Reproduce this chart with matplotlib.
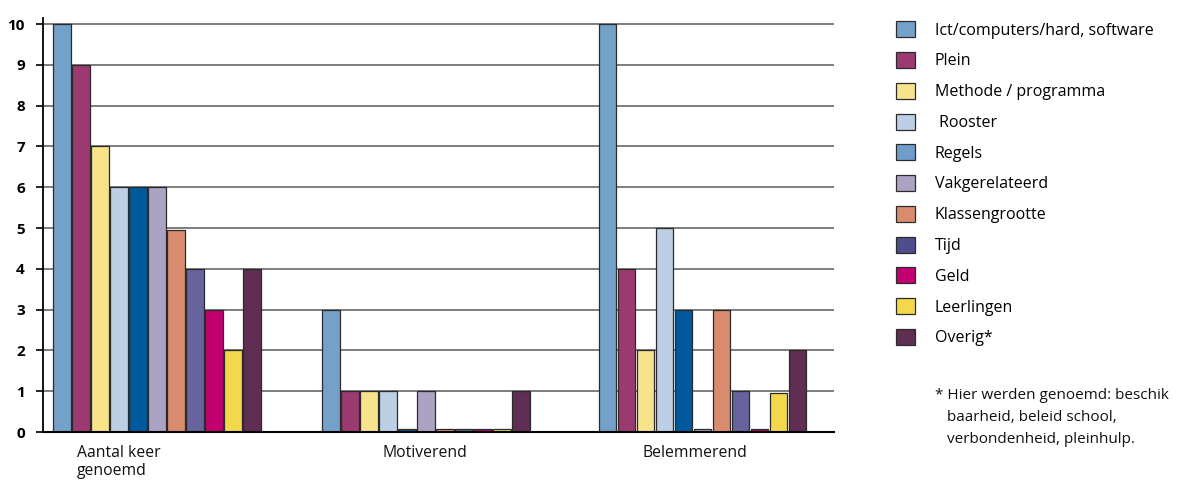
import matplotlib
matplotlib.use("Agg")
import matplotlib.pyplot as plt
from matplotlib.patches import Patch
import numpy as np

plt.rcParams['font.family'] = ['Open Sans', 'DejaVu Sans']

groups = ["Aantal keer\ngenoemd", "Motiverend", "Belemmerend"]
series = ["Ict/computers/hard, software", "Plein", "Methode / programma", " Rooster",
          "Regels", "Vakgerelateerd", "Klassengrootte", "Tijd", "Geld", "Leerlingen", "Overig*"]

aantal_keer = [10, 9, 7, 6, 6, 6, 4.95, 4, 3, 2, 4]
motiverend = [3, 1, 1, 1, 0.08, 1, 0.08, 0.08, 0.08, 0.08, 1]
belemmerend = [10, 4, 2, 5, 3, 0.08, 3, 1, 0.08, 0.95, 2]

bar_colors = ["#73a1c9", "#9b3a71", "#f7e38c", "#bccfe4", "#00599d", "#aca3c4",
              "#d98c6d", "#67639c", "#c2006f", "#f3d84e", "#602d53"]
legend_colors = ["#73a1c9", "#9b3a71", "#f7e38c", "#bccfe4", "#6f9dca", "#aca3c4",
                 "#d98c6d", "#4f4d8c", "#c2006f", "#f3d84e", "#602d53"]
footnote = "* Hier werden genoemd: beschik\n   baarheid, beleid school,\n   verbondenheid, pleinhulp."

values = np.array([aantal_keer, motiverend, belemmerend])
group_start = [1.0, 15.15, 29.7]

fig = plt.figure(figsize=(11.79, 4.8), dpi=100)
ax = fig.add_axes([43 / 1179, 1 - 432 / 480, (834 - 43) / 1179, (432 - 18) / 480])

for gi, start in enumerate(group_start):
    xs = start + np.arange(len(series))
    ax.bar(xs, values[gi], width=0.92, color=bar_colors, edgecolor="#2b2b2b",
           linewidth=0.9, zorder=3)

ax.set_xlim(0, 41.63)
ax.set_ylim(0, 10.15)
ax.set_yticks(range(0, 11))
ax.set_yticklabels([str(i) for i in range(0, 11)], fontweight="bold", fontsize=11)
ax.tick_params(axis="y", length=5, width=1.2, pad=8, direction="out")
ax.set_xticks([])
ax.yaxis.grid(True, color="#5a5a5a", linewidth=1.1, zorder=0)
for s in ["top", "right"]:
    ax.spines[s].set_visible(False)
ax.spines["left"].set_linewidth(1.3)
ax.spines["bottom"].set_linewidth(1.5)
ax.spines["bottom"].set_zorder(4)

# category labels below the axis
label_x = [(77 - 43) / 19, (424.5 - 43) / 19, (695 - 43) / 19]
aligns = ["left", "center", "center"]
for txt, lx, ha in zip(groups, label_x, aligns):
    ax.text(lx, -0.33, txt, ha=ha, va="top", fontsize=11.3, linespacing=1.1,
            multialignment="left", color="#111111")

handles = [Patch(facecolor=c, edgecolor="#2b2b2b", linewidth=0.9) for c in legend_colors]
leg = fig.legend(handles, series, loc="upper left", bbox_to_anchor=(890 / 1179, 1 - 15 / 480),
                 frameon=False, fontsize=11.5, handlelength=1.15, handleheight=1.15,
                 labelspacing=0.84, handletextpad=1.25, borderaxespad=0)

fig.text(935 / 1179, 1 - 388 / 480, footnote, ha="left", va="top", fontsize=11,
         linespacing=1.65, color="#111111")

fig.savefig("out.png", dpi=100, facecolor="white")
